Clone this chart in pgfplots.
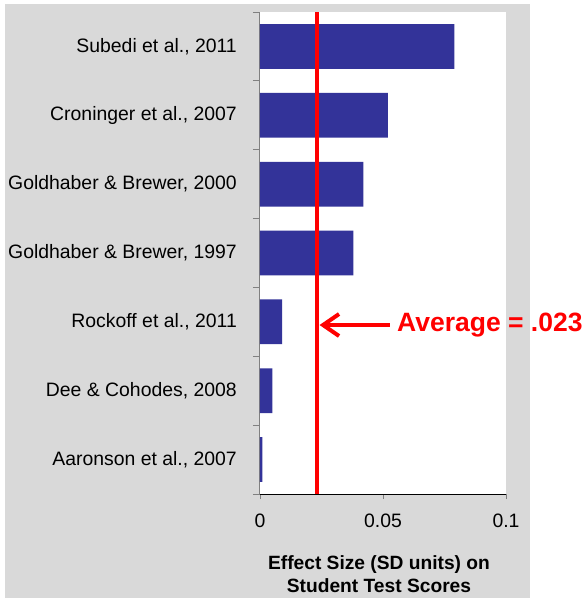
\documentclass[border=0pt]{standalone}
\usepackage{fontspec}
\setmainfont{Liberation Sans}
\usepackage{pgfplots}
\pgfplotsset{compat=1.18}
\usetikzlibrary{arrows.meta}
\definecolor{barblue}{HTML}{333399}
\definecolor{panelgray}{HTML}{D9D9D9}
\definecolor{avgred}{HTML}{FF0000}

\begin{document}
\begin{tikzpicture}
\useasboundingbox (0pt,0pt) rectangle (585pt,598pt);
\fill[panelgray] (5pt,0pt) rectangle (530pt,594pt);
\begin{axis}[
  at={(260pt,104pt)}, anchor=south west,
  scale only axis, width=246pt, height=482pt,
  xmin=0, xmax=0.1, ymin=-0.5, ymax=6.5,
  clip=false,
  axis background/.style={fill=white},
  axis x line*=bottom, axis y line*=left,
  x axis line style={black, line width=1pt},
  y axis line style={gray, line width=1pt},
  tick align=outside,
  major tick length=5pt, minor tick length=7pt,
  xtick={0,0.05,0.1}, xticklabels={0,0.05,0.1},
  major x tick style={gray, line width=0.8pt},
  ytick={0,...,6},
  yticklabels={{Aaronson et al., 2007}, {Dee \& Cohodes, 2008}, {Rockoff et al., 2011},
    {Goldhaber \& Brewer, 1997}, {Goldhaber \& Brewer, 2000}, {Croninger et al., 2007},
    {Subedi et al., 2011}},
  major y tick style={draw=none},
  minor ytick={-0.5,0.5,...,6.5},
  minor y tick style={gray, line width=0.8pt},
  /pgf/number format/assume math mode=true,
  ticklabel style={font=\fontsize{19.4}{22}\selectfont, text=black},
  yticklabel style={inner sep=0pt, xshift=-18pt},
  xticklabel style={inner sep=0pt, yshift=-15pt},
  xlabel={Effect Size (SD units) on\\Student Test Scores},
  xlabel style={align=center, font=\bfseries\fontsize{19.2}{23}\selectfont,
    xshift=-4pt, yshift=-24pt},
]
% study effect sizes
\addplot[xbar, bar width=0.65, bar shift=0pt, fill=barblue, draw=none] coordinates {
  (0.001,0) (0.005,1) (0.009,2) (0.038,3) (0.042,4) (0.052,5) (0.079,6)};
% average effect line
\addplot[avgred, line width=4pt, mark=none] coordinates {(0.023,-0.5) (0.023,6.5)};
\draw[avgred, line width=4pt, -{Straight Barb[length=16pt,width=22pt]}]
  (axis cs:0.0528,1.954) -- (axis cs:0.0242,1.954);
\node[anchor=west, inner sep=0pt, text=avgred,
  font=\bfseries\fontsize{26.5}{30}\selectfont]
  at (axis cs:0.0557,1.954) {Average = .023};
\end{axis}
\end{tikzpicture}
\end{document}
